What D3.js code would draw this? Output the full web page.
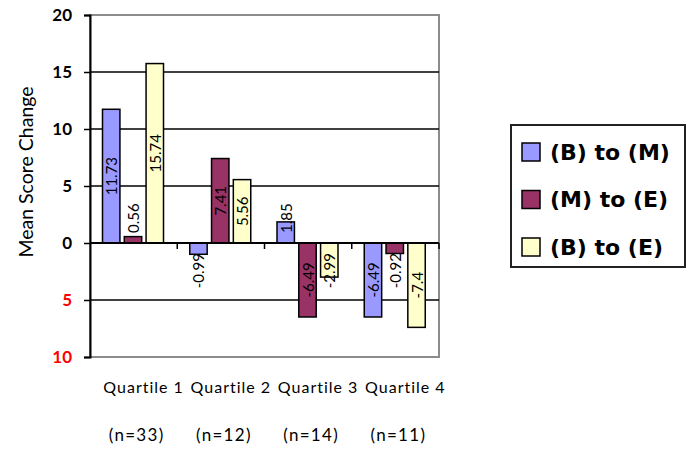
<!DOCTYPE html>
<html>
<head>
<meta charset="utf-8">
<script src="https://cdn.jsdelivr.net/npm/d3@7/dist/d3.min.js"></script>
<style>
  body { margin: 0; background: #fff; }
  svg { display: block; font-family: Lato, "Open Sans", sans-serif; }
</style>
</head>
<body>
<script>
// Mean score change per quartile, grouped bars

const categories = ["Quartile 1", "Quartile 2", "Quartile 3", "Quartile 4"];
const groupSizes = ["(n=33)", "(n=12)", "(n=14)", "(n=11)"];
const seriesNames = ["(B) to (M)", "(M) to (E)", "(B) to (E)"];
const bToM = [11.73, -0.99, 1.85, -6.49];
const mToE = [0.56, 7.41, -6.49, -0.92];
const bToE = [15.74, 5.56, -2.99, -7.4];
const yTicks = [-10, -5, 0, 5, 10, 15, 20];

const seriesValues = [bToM, mToE, bToE];
const colors = ["#9999ff", "#993366", "#ffffcc"];

const width = 687;
const height = 451;
const plot = { left: 90, right: 439, top: 15, bottom: 357 };

const svg = d3.select("body").append("svg")
  .attr("width", width)
  .attr("height", height);

const x = d3.scaleBand().domain(categories).range([plot.left, plot.right]).padding(0);
const xSub = d3.scaleBand().domain(seriesNames).range([12.5, 73.5]).paddingInner(0.2);
const y = d3.scaleLinear().domain([-10, 20]).range([plot.bottom, plot.top]);

// plot frame (gray)
svg.append("rect")
  .attr("x", plot.left).attr("y", plot.top)
  .attr("width", plot.right - plot.left).attr("height", plot.bottom - plot.top)
  .attr("fill", "none").attr("stroke", "#8c8c8c").attr("stroke-width", 2);

// gridlines
svg.selectAll("line.grid")
  .data(yTicks.filter((t) => t !== 0 && t !== 20 && t !== -10))
  .enter().append("line")
  .attr("class", "grid")
  .attr("x1", plot.left).attr("x2", plot.right)
  .attr("y1", (d) => y(d)).attr("y2", (d) => y(d))
  .attr("stroke", "#000").attr("stroke-width", 1.5);

// bars
const rows = [];
seriesValues.forEach((vals, si) => {
  vals.forEach((v, ci) => rows.push({ s: seriesNames[si], si, c: categories[ci], v }));
});

svg.selectAll("rect.bar")
  .data(rows)
  .enter().append("rect")
  .attr("class", "bar")
  .attr("x", (d) => x(d.c) + xSub(d.s))
  .attr("y", (d) => y(Math.max(0, d.v)))
  .attr("width", xSub.bandwidth())
  .attr("height", (d) => Math.abs(y(d.v) - y(0)))
  .attr("fill", (d) => colors[d.si])
  .attr("stroke", "#000").attr("stroke-width", 1.5);

// zero line + category ticks
svg.append("line")
  .attr("x1", plot.left).attr("x2", plot.right)
  .attr("y1", y(0)).attr("y2", y(0))
  .attr("stroke", "#000").attr("stroke-width", 2);

svg.selectAll("line.ctick")
  .data(categories)
  .enter().append("line")
  .attr("class", "ctick")
  .attr("x1", (d) => x(d) + x.bandwidth()).attr("x2", (d) => x(d) + x.bandwidth())
  .attr("y1", y(0)).attr("y2", y(0) + 6)
  .attr("stroke", "#000").attr("stroke-width", 1.5);

// y axis
const yAxis = svg.append("g")
  .attr("transform", `translate(${plot.left},0)`)
  .call(d3.axisLeft(y).tickValues(yTicks).tickSize(6).tickPadding(12)
    .tickFormat((d) => Math.abs(d)));
yAxis.select(".domain").attr("stroke", "#000").attr("stroke-width", 2);
yAxis.selectAll(".tick line").attr("stroke", "#000").attr("stroke-width", 1.5);
yAxis.selectAll(".tick text")
  .attr("font-family", "Lato, sans-serif")
  .attr("font-size", 17).attr("font-weight", "bold")
  .attr("fill", (d) => (d < 0 ? "#ff0000" : "#000"));

svg.append("text")
  .attr("transform", "translate(33,172) rotate(-90)")
  .attr("text-anchor", "middle")
  .attr("font-size", 19.5)
  .attr("fill", "#000")
  .text("Mean Score Change");

// value labels, rotated, centred in bar but kept clear of the zero line
const labels = svg.selectAll("text.val")
  .data(rows)
  .enter().append("text")
  .attr("class", "val")
  .attr("font-size", 15)
  .attr("text-anchor", "middle")
  .attr("dominant-baseline", "central")
  .attr("fill", "#000")
  .text((d) => d.v);

labels.each(function (d) {
  const len = this.getComputedTextLength();
  const cx = x(d.c) + xSub(d.s) + xSub.bandwidth() / 2;
  const gap = 10;
  let cy = (y(0) + y(d.v)) / 2;
  if (d.v >= 0) cy = Math.min(cy, y(0) - gap - len / 2);
  else cy = Math.max(cy, y(0) + gap + len / 2);
  d3.select(this).attr("transform", `translate(${cx},${cy}) rotate(-90)`);
});

// category labels
svg.selectAll("text.cat")
  .data(categories)
  .enter().append("text")
  .attr("class", "cat")
  .attr("x", (d) => x(d) + x.bandwidth() / 2 + 10)
  .attr("y", 393)
  .attr("text-anchor", "middle")
  .attr("font-size", 16)
  .attr("letter-spacing", 1)
  .attr("fill", "#000")
  .text((d) => d);

svg.selectAll("text.nsize")
  .data(groupSizes)
  .enter().append("text")
  .attr("class", "nsize")
  .attr("x", (d, i) => x(categories[i]) + x.bandwidth() / 2 + 3)
  .attr("y", 441)
  .attr("text-anchor", "middle")
  .attr("font-size", 17)
  .attr("letter-spacing", 1.3)
  .attr("fill", "#000")
  .text((d) => d);

// legend
const legend = svg.append("g").attr("transform", "translate(511,125)");
legend.append("rect")
  .attr("width", 174).attr("height", 142)
  .attr("fill", "#fff").attr("stroke", "#222").attr("stroke-width", 2);

const item = legend.selectAll("g.item")
  .data(seriesNames)
  .enter().append("g")
  .attr("class", "item")
  .attr("transform", (d, i) => `translate(11,${27 + i * 47.5})`);

item.append("rect")
  .attr("y", -9).attr("width", 18).attr("height", 18)
  .attr("fill", (d, i) => colors[i])
  .attr("stroke", "#000").attr("stroke-width", 1.5);

item.append("text")
  .attr("x", 28).attr("y", 0)
  .attr("dominant-baseline", "central")
  .attr("font-family", "'DejaVu Sans', sans-serif")
  .attr("font-size", 22).attr("font-weight", "bold")
  .attr("fill", "#000")
  .text((d) => d);
</script>
</body>
</html>
